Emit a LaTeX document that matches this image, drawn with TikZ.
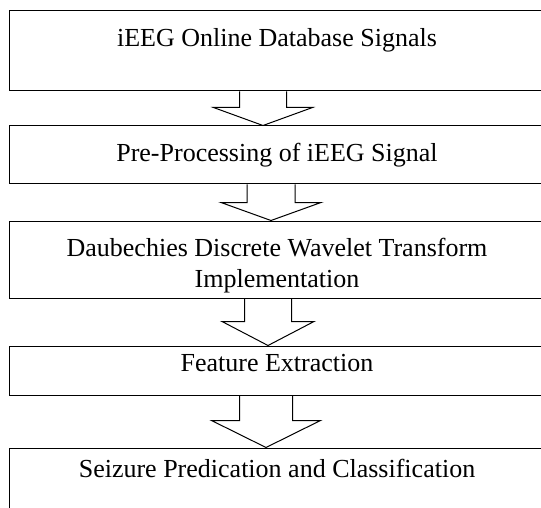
\documentclass[tikz,border=0pt]{standalone}
\usepackage{fontspec}
\setmainfont{Liberation Serif}
\usetikzlibrary{positioning,calc}

\begin{document}
\begin{tikzpicture}[x=1pt,y=-1pt,
	stage/.style={shape=rectangle, draw=black, line width=1pt, minimum width=536pt},
	lbl/.style={inner sep=0pt, align=center, font=\fontsize{26}{31}\selectfont},
	shaft half/.initial=24pt,
	head half/.initial=50pt,
	head len/.initial=18pt,
	hollow/.style={draw=black, line width=1pt, line join=miter,
		to path={let \p1=(\tikztostart), \p2=(\tikztotarget) in
			(\x1-\pgfkeysvalueof{/tikz/shaft half},\y1)
			-- (\x1-\pgfkeysvalueof{/tikz/shaft half},\y2+\pgfkeysvalueof{/tikz/head len})
			-- (\x1-\pgfkeysvalueof{/tikz/head half},\y2+\pgfkeysvalueof{/tikz/head len})
			-- (\x2,\y2)
			-- (\x1+\pgfkeysvalueof{/tikz/head half},\y2+\pgfkeysvalueof{/tikz/head len})
			-- (\x1+\pgfkeysvalueof{/tikz/shaft half},\y2+\pgfkeysvalueof{/tikz/head len})
			-- (\x1+\pgfkeysvalueof{/tikz/shaft half},\y1)}}]
	\useasboundingbox (0,0) rectangle (541,508);
	\clip (0,0) rectangle (541,508);

	% Boxes of the stages
	\node [stage, minimum height=80pt] (sig) at (277,51) {};
	\node [stage, minimum height=58pt] (pre) at (277,155) {};
	\node [stage, minimum height=77pt] (dwt) at (277,259.5) {};
	\node [stage, minimum height=49pt] (feat) at (277,370.5) {};
	\node [stage, minimum height=92pt] (cls) at (277,494) {};

	% Texts, hanging from the top of each box (base = last line)
	\node [lbl, below=36pt of sig.north, anchor=base] (sigtxt) {iEEG Online Database Signals};
	\node [lbl, below=36pt of pre.north, anchor=base] (pretxt) {Pre-Processing of iEEG Signal};
	\node [lbl, below=67pt of dwt.north, anchor=base] (dwttxt) {Daubechies Discrete Wavelet Transform\\Implementation};
	\node [lbl, below=26pt of feat.north, anchor=base] (feattxt) {Feature Extraction};
	\node [lbl, below=30pt of cls.north, anchor=base] (clstxt) {Seizure Predication and Classification};

	% Hollow arrows between the boxes
	\draw [hollow, shaft half=23.5pt, head half=49.5pt, head len=18pt] (263,0 |- sig.south) to (263,0 |- pre.north);
	\draw [hollow, shaft half=24pt, head half=50pt, head len=18pt] (271,0 |- pre.south) to (271,0 |- dwt.north);
	\draw [hollow, shaft half=23.5pt, head half=46pt, head len=24pt] (268,0 |- dwt.south) to (268,0 |- feat.north);
	\draw [hollow, shaft half=26.5pt, head half=54.5pt, head len=27pt] (266,0 |- feat.south) to (266,0 |- cls.north);
\end{tikzpicture}
\end{document}
